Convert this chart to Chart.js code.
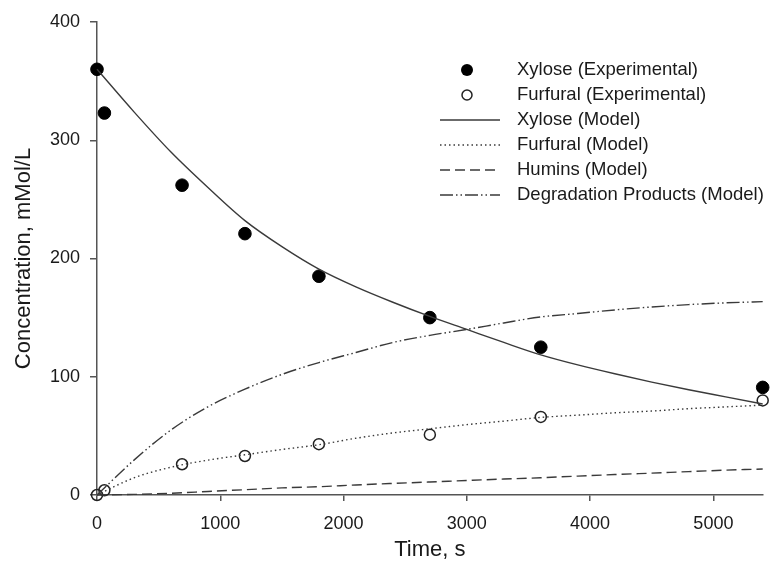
<!DOCTYPE html>
<html>
<head>
<meta charset="utf-8">
<script src="https://cdn.jsdelivr.net/npm/chart.js@4"></script>
<style>
html,body{margin:0;padding:0;background:#fff;}
#wrap{width:770px;height:575px;}
</style>
</head>
<body>
<div id="wrap"><canvas id="c" width="770" height="575"></canvas></div>
<script>
// Experimental data
const expTimes = [0, 60, 690, 1200, 1800, 2700, 3600, 5400];
const xyloseExp = [360, 323, 262, 221, 185, 150, 125, 91];
const furfuralExp = [0, 4, 26, 33, 43, 51, 66, 80];

// Model curves
const modelTimes = [0, 300, 600, 900, 1200, 1500, 1800, 2100, 2400, 2700, 3000, 3300, 3600, 3900, 4200, 4500, 4800, 5100, 5400];
const xyloseModel = [360, 324, 290, 260, 232, 210, 191, 176, 163, 151, 140, 129, 118.5, 110, 102.5, 95.5, 89, 83, 77];
const furfuralModel = [0, 14.5, 23.5, 29.5, 34, 38.5, 42.5, 48, 52.5, 56, 59.5, 62.5, 65.6, 67.5, 69.5, 71, 73, 74.5, 76];
const huminsModel = [0, 0.5, 1.5, 3, 4.5, 6, 7, 8.5, 9.8, 11, 12.3, 13.5, 14.6, 16, 17.3, 18.5, 19.8, 21, 22];
const degradModel = [0, 29.5, 55, 74.6, 89.5, 102, 112, 120.5, 129, 135, 140, 145.5, 150.6, 153.5, 156.5, 159, 161, 162.5, 163.5];

const xTicks = [0, 1000, 2000, 3000, 4000, 5000];
const yTicks = [0, 100, 200, 300, 400];

const labels = ['Xylose (Experimental)', 'Furfural (Experimental)', 'Xylose (Model)', 'Furfural (Model)', 'Humins (Model)', 'Degradation Products (Model)'];

const pts = (xs, ys) => xs.map((x, i) => ({x: x, y: ys[i]}));
const FONT = "'Liberation Sans', Arial, sans-serif";
const LINE = '#3a3a3a';

const lineDs = (label, data, dash) => ({
  label, data, showLine: true, pointRadius: 0, borderColor: LINE, borderWidth: 1.4,
  borderDash: dash, cubicInterpolationMode: 'monotone', fill: false, clip: false
});

const datasets = [
  lineDs(labels[2], pts(modelTimes, xyloseModel), []),
  lineDs(labels[3], pts(modelTimes, furfuralModel), [1.5, 3]),
  lineDs(labels[4], pts(modelTimes, huminsModel), [10, 5]),
  lineDs(labels[5], pts(modelTimes, degradModel), [13, 3, 1.5, 3, 1.5, 3]),
  {label: labels[0], data: pts(expTimes, xyloseExp), showLine: false, pointRadius: 6.3, clip: false,
   pointBackgroundColor: '#000', pointBorderColor: '#000', pointBorderWidth: 1},
  {label: labels[1], data: pts(expTimes, furfuralExp), showLine: false, pointRadius: 5.5, clip: false,
   pointBackgroundColor: 'rgba(255,255,255,0)', pointBorderColor: '#222', pointBorderWidth: 1.5}
];

const legendPlugin = {
  id: 'customLegend',
  afterDraw(chart) {
    const ctx = chart.ctx;
    ctx.save();
    const rows = [70, 95, 120, 145, 170, 195];
    const textX = 517, lx0 = 440, lx1 = 500, mx = 467;
    ctx.font = "18.5px " + FONT;
    ctx.fillStyle = '#1a1a1a';
    ctx.textBaseline = 'middle';
    ctx.textAlign = 'left';
    labels.forEach((l, i) => ctx.fillText(l, textX, rows[i]));
    ctx.beginPath(); ctx.arc(mx, rows[0], 6, 0, Math.PI * 2); ctx.fillStyle = '#000'; ctx.fill();
    ctx.beginPath(); ctx.arc(mx, rows[1], 5, 0, Math.PI * 2); ctx.strokeStyle = '#222'; ctx.lineWidth = 1.5; ctx.stroke();
    const dashes = [[], [1.5, 3], [10, 5], [13, 3, 1.5, 3, 1.5, 3]];
    ctx.strokeStyle = LINE; ctx.lineWidth = 1.4;
    dashes.forEach((d, i) => {
      ctx.setLineDash(d);
      ctx.beginPath(); ctx.moveTo(lx0, rows[i + 2]); ctx.lineTo(lx1, rows[i + 2]); ctx.stroke();
    });
    ctx.restore();
  }
};

new Chart(document.getElementById('c'), {
  type: 'scatter',
  data: {datasets},
  plugins: [legendPlugin],
  options: {
    responsive: false,
    animation: false,
    events: [],
    layout: {padding: {top: 22, right: 6, left: 0, bottom: 0}},
    plugins: {legend: {display: false}, tooltip: {enabled: false}},
    scales: {
      x: {
        type: 'linear', min: 0, max: 5400,
        afterFit: (s) => { s.height = 80; },
        border: {color: '#555', width: 1.5},
        grid: {drawOnChartArea: false, drawTicks: true, tickLength: 6, color: '#555', lineWidth: 1.5},
        afterBuildTicks: (s) => { s.ticks = xTicks.map(v => ({value: v})); },
        ticks: {font: {family: FONT, size: 18}, color: '#1a1a1a', padding: 12, maxRotation: 0,
                callback: (v) => String(v)},
        title: {display: true, text: 'Time, s', font: {family: FONT, size: 22}, color: '#1a1a1a', padding: {top: 0, bottom: 12}}
      },
      y: {
        type: 'linear', min: 0, max: 400,
        afterFit: (s) => { s.width = 97; },
        border: {color: '#555', width: 1.5},
        grid: {drawOnChartArea: false, drawTicks: true, tickLength: 7, color: '#555', lineWidth: 1.5},
        afterBuildTicks: (s) => { s.ticks = yTicks.map(v => ({value: v})); },
        ticks: {font: {family: FONT, size: 18}, color: '#1a1a1a', padding: 10,
                callback: (v) => String(v)},
        title: {display: true, text: 'Concentration, mMol/L', font: {family: FONT, size: 22}, color: '#1a1a1a', padding: {top: 11, bottom: 0}}
      }
    }
  }
});
</script>
</body>
</html>
